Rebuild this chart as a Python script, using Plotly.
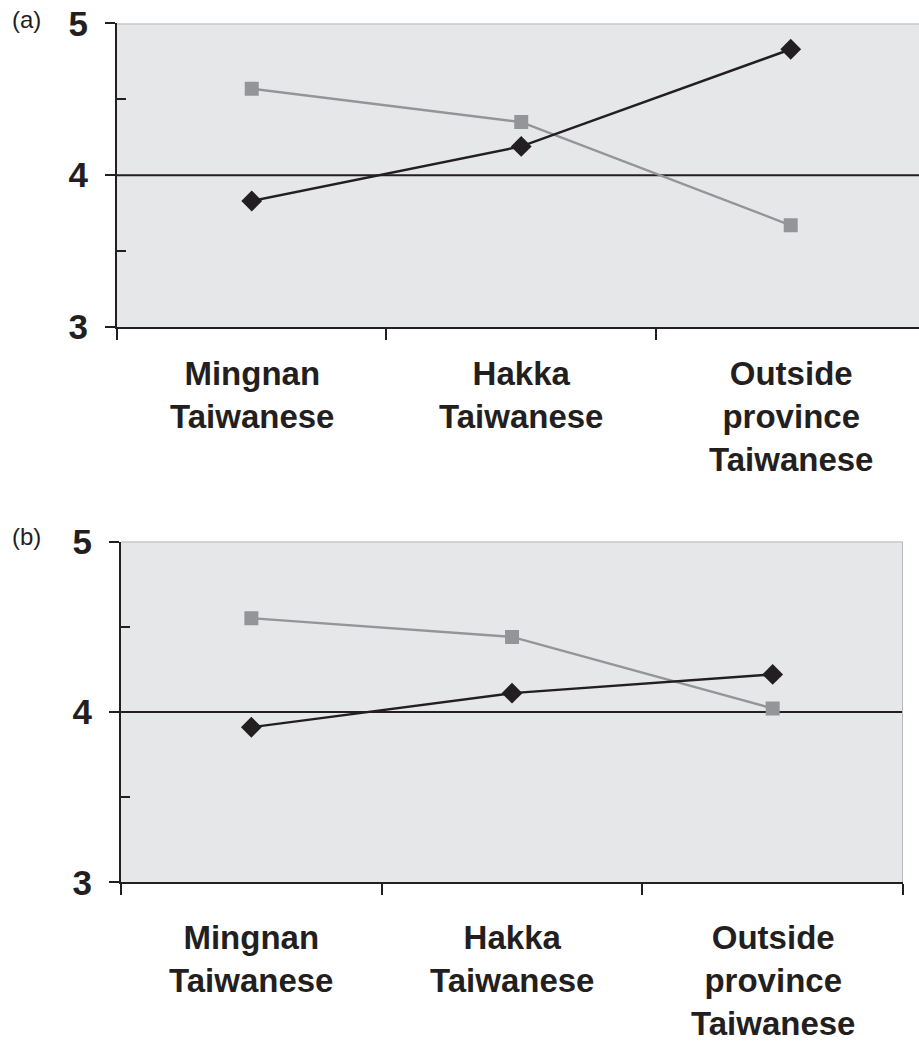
import plotly.graph_objects as go

# Group categories (x) and mean scores for the two series in each panel
categories = ["Mingnan<br>Taiwanese", "Hakka<br>Taiwanese", "Outside<br>province<br>Taiwanese"]
x_pos = [0, 1, 2]

panel_a_black = [3.83, 4.19, 4.83]
panel_a_gray = [4.57, 4.35, 3.67]

panel_b_black = [3.91, 4.11, 4.22]
panel_b_gray = [4.55, 4.44, 4.02]

y_ticks = [3, 4, 5]
y_minor = [3.5, 4.5]
x_bounds = [-0.5, 0.5, 1.5, 2.5]

BLACK = "#231f20"
GRAY = "#939598"
BG = "#e6e7e9"
FONT = "Liberation Sans, Arial, sans-serif"

fig = go.Figure()


def add_series(xa, ya, black, gray):
    fig.add_trace(go.Scatter(
        x=x_pos, y=gray, xaxis=xa, yaxis=ya, mode="lines+markers",
        line=dict(color=GRAY, width=2.4),
        marker=dict(symbol="square", size=14, color=GRAY),
        showlegend=False, hoverinfo="skip"))
    fig.add_trace(go.Scatter(
        x=x_pos, y=black, xaxis=xa, yaxis=ya, mode="lines+markers",
        line=dict(color=BLACK, width=2.4),
        marker=dict(symbol="diamond", size=16, color=BLACK),
        showlegend=False, hoverinfo="skip"))


add_series("x", "y", panel_a_black, panel_a_gray)
add_series("x2", "y2", panel_b_black, panel_b_gray)


def xaxis_cfg(domain, rng):
    return dict(
        domain=domain, range=rng, tickmode="array", tickvals=x_bounds,
        ticktext=["", "", "", ""], ticks="outside", ticklen=11, tickwidth=2,
        tickcolor=BLACK, showline=True, linecolor=BLACK, linewidth=2,
        showgrid=False, zeroline=False, fixedrange=True)


def yaxis_cfg(domain, anchor):
    return dict(
        domain=domain, range=[3, 5], anchor=anchor, tickmode="array",
        tickvals=y_ticks, ticktext=[str(v) for v in y_ticks],
        ticks="outside", ticklen=10, tickwidth=2, tickcolor=BLACK,
        ticklabelstandoff=10,
        tickfont=dict(family=FONT, size=35, color=BLACK, weight="bold"),
        minor=dict(tickmode="array", tickvals=y_minor, ticks="inside",
                   ticklen=9, tickwidth=2, tickcolor=BLACK, showgrid=False),
        showline=True, linecolor=BLACK, linewidth=2,
        showgrid=False, zeroline=False, fixedrange=True)


fig.update_layout(
    width=919, height=1047,
    margin=dict(l=0, r=0, t=0, b=0, autoexpand=False),
    paper_bgcolor="white", plot_bgcolor=BG,
    xaxis=dict(**xaxis_cfg([0.1273, 1.0], [-0.5, 2.476]), anchor="y"),
    yaxis=yaxis_cfg([0.6877, 0.9776], "x"),
    xaxis2=dict(**xaxis_cfg([0.1317, 0.9826], [-0.5, 2.5]), anchor="y2"),
    yaxis2=yaxis_cfg([0.1573, 0.4828], "x2"),
)

shapes = []
for xr, yr, right_edge in (("x", "y", 2.476), ("x2", "y2", 2.5)):
    # reference line at the scale midpoint
    shapes.append(dict(type="line", xref=xr, yref=yr, x0=-0.5, x1=right_edge,
                       y0=4, y1=4, line=dict(color=BLACK, width=2), layer="below"))
    # light frame along the top of the plot area
    shapes.append(dict(type="line", xref=xr, yref=yr, x0=-0.5, x1=right_edge,
                       y0=5, y1=5, line=dict(color="#b9babd", width=2), layer="below"))
shapes.append(dict(type="line", xref="x2", yref="y2", x0=2.5, x1=2.5, y0=3, y1=5,
                   line=dict(color="#b9babd", width=2), layer="below"))
fig.update_layout(shapes=shapes)

annotations = []
for xr, y_top in (("x", 1 - 353 / 1047), ("x2", 1 - 917 / 1047)):
    for xp, label in zip(x_pos, categories):
        annotations.append(dict(
            x=xp, y=y_top, xref=xr, yref="paper", text=label, showarrow=False,
            xanchor="center", yanchor="top", align="center",
            font=dict(family=FONT, size=33, color=BLACK, weight="bold")))

annotations.append(dict(x=10 / 919, y=1 - 4 / 1047, xref="paper", yref="paper",
                        text="(a)", showarrow=False, xanchor="left", yanchor="top",
                        font=dict(family=FONT, size=24, color=BLACK)))
annotations.append(dict(x=10 / 919, y=1 - 521 / 1047, xref="paper", yref="paper",
                        text="(b)", showarrow=False, xanchor="left", yanchor="top",
                        font=dict(family=FONT, size=24, color=BLACK)))
fig.update_layout(annotations=annotations)

fig.write_html("out.html")
